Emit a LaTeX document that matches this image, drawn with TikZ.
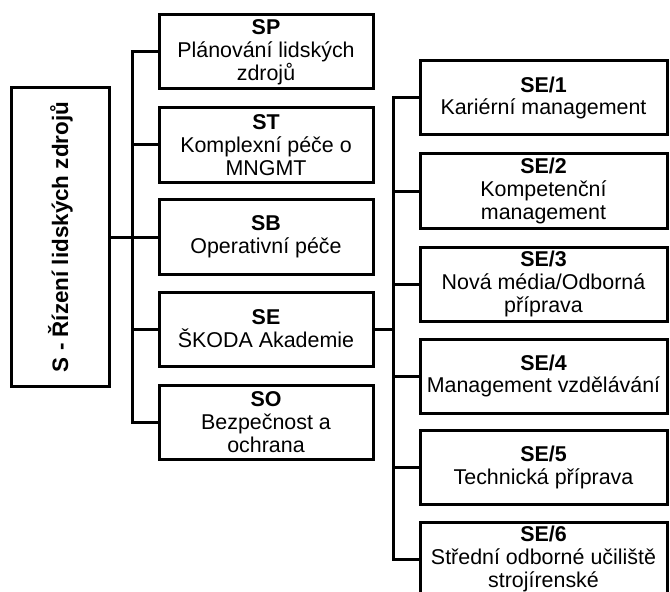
\documentclass[tikz,border=0pt]{standalone}
\usepackage{fontspec}
\setmainfont{Liberation Sans}

\begin{document}
\begin{tikzpicture}[x=1bp,y=-1bp,
    unit/.style={draw,line width=3bp,minimum width=214bp,minimum height=74bp,inner sep=0pt,align=center,font=\fontsize{21.5}{23}\selectfont},
    subunit/.style={unit,minimum width=247bp},
    link/.style={line width=3bp}]
  \useasboundingbox (0,0) rectangle (670,592);
  \draw
    (60.5,237) node[draw,line width=3bp,minimum width=97bp,minimum height=298bp,inner sep=0pt,font=\fontsize{22.5}{24}\selectfont\bfseries] (root){\rotatebox{90}{S - Řízení lidských zdrojů}}
    (266,52) node[unit] (sp){\textbf{SP}\\Plánování lidských\\zdrojů}
    (266,145) node[unit] (st){\textbf{ST}\\Komplexní péče o\\MNGMT}
    (266,237) node[unit] (sb){\textbf{SB}\\Operativní péče}
    (266,329) node[unit] (se){\textbf{SE}\\ŠKODA Akademie}
    (266,422) node[unit] (so){\textbf{SO}\\Bezpečnost a\\ochrana};
  \draw
    (543.5,98) node[subunit] (se1){\textbf{SE/1}\\Kariérní management}
    (543.5,191) node[subunit] (se2){\textbf{SE/2}\\Kompetenční\\management}
    (543.5,284) node[subunit] (se3){\textbf{SE/3}\\Nová média/Odborná\\příprava}
    (543.5,376) node[subunit] (se4){\textbf{SE/4}\\Management vzdělávání}
    (543.5,467) node[subunit] (se5){\textbf{SE/5}\\Technická příprava}
    (543.5,559) node[subunit] (se6){\textbf{SE/6}\\Střední odborné učiliště\\strojírenské};
  % first level
  \draw[link] (root.east) -- (sb.west);
  \draw[link] (sp.west) -- ++(-25,0) |- (so.west);
  \foreach \n in {st,sb,se}
    \draw[link] (\n.west) -- ++(-25,0);
  % SE units
  \draw[link] (se1.west) -- ++(-25,0) coordinate (setrunk) |- (se6.west);
  \draw[link] (se.east) -- (se.east -| setrunk);
  \foreach \n in {se2,se3,se4,se5}
    \draw[link] (\n.west) -- ++(-25,0);
\end{tikzpicture}
\end{document}
